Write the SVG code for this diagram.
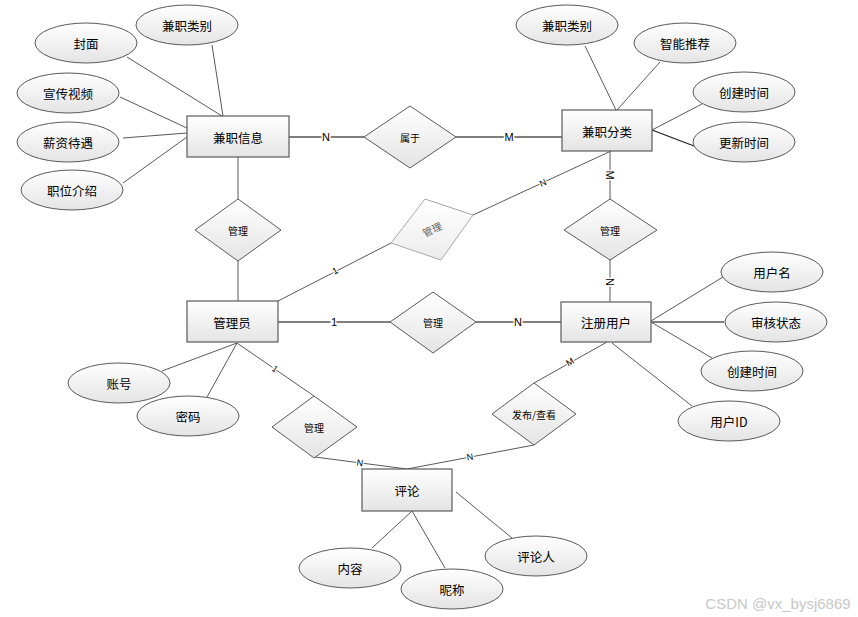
<svg xmlns="http://www.w3.org/2000/svg" width="858" height="617" viewBox="0 0 858 617">
<defs>
<linearGradient id="g" x1="0" y1="0" x2="0" y2="1">
<stop offset="0" stop-color="#ffffff"/>
<stop offset="1" stop-color="#e4e4e4"/>
</linearGradient>
<linearGradient id="gs" x1="0" y1="0" x2="0" y2="1">
<stop offset="0" stop-color="#ffffff"/>
<stop offset="1" stop-color="#ececec"/>
</linearGradient>
</defs>
<style>
.e{fill:url(#g);stroke:#5a5a5a;stroke-width:1.2}
.a{fill:url(#g);stroke:#5a5a5a;stroke-width:1}
.d{fill:url(#g);stroke:#5a5a5a;stroke-width:1}
.ds{fill:url(#gs);stroke:#a8a8a8;stroke-width:1}
.l{stroke:#595959;stroke-width:1;fill:none}
.lt{stroke:#7f7f7f;stroke-width:2;fill:none}
.t{font-family:"Noto Sans CJK SC","Liberation Sans",sans-serif;font-size:12.5px;fill:#000;text-anchor:middle;dominant-baseline:central}
.ts{font-family:"Noto Sans CJK SC","Liberation Sans",sans-serif;font-size:10px;fill:#000;text-anchor:middle;dominant-baseline:central}
.c{font-family:"Liberation Sans",sans-serif;font-size:11px;fill:#000;text-anchor:middle;dominant-baseline:central;stroke:#fff;stroke-width:3;paint-order:stroke}
.cs{font-family:"Liberation Sans",sans-serif;font-size:9px;fill:#000;text-anchor:middle;dominant-baseline:central;stroke:#fff;stroke-width:2.5;paint-order:stroke}
</style>
<rect width="858" height="617" fill="#fff"/>
<g id="connectors">
<line class="l" x1="127" y1="57" x2="222" y2="116"/>
<line class="l" x1="212" y1="45" x2="223" y2="116"/>
<line class="l" x1="120" y1="97" x2="187" y2="128"/>
<line class="l" x1="123" y1="138" x2="187" y2="133"/>
<line class="l" x1="123" y1="183" x2="187" y2="137"/>
<line class="l" x1="238" y1="157" x2="238" y2="199"/>
<line class="l" x1="238" y1="261" x2="238" y2="301"/>
<line class="lt" x1="289" y1="137" x2="364" y2="137"/>
<line class="lt" x1="456" y1="137" x2="562" y2="137"/>
<line class="l" x1="585" y1="46" x2="616" y2="110"/>
<line class="l" x1="660" y1="62" x2="617" y2="110"/>
<line class="l" x1="702" y1="104" x2="652" y2="130"/>
<line class="l" x1="652" y1="130" x2="694" y2="146" style="stroke:#222;stroke-width:1.3"/>
<line class="l" x1="610" y1="151" x2="610" y2="199"/>
<line class="l" x1="610" y1="260" x2="610" y2="302"/>
<line class="l" x1="611" y1="151" x2="473" y2="215"/>
<line class="l" x1="391" y1="243" x2="278" y2="301"/>
<line class="lt" x1="278" y1="322" x2="390" y2="322"/>
<line class="lt" x1="476" y1="322" x2="561" y2="322"/>
<line class="l" x1="162" y1="371" x2="237" y2="343"/>
<line class="l" x1="207" y1="397" x2="237" y2="343"/>
<line class="l" x1="237" y1="343" x2="314" y2="396"/>
<line class="l" x1="315" y1="457" x2="407" y2="469"/>
<line class="l" x1="534" y1="445" x2="407" y2="469"/>
<line class="l" x1="534" y1="383" x2="607" y2="342"/>
<line class="l" x1="651" y1="321" x2="723" y2="277"/>
<line class="lt" x1="651" y1="322" x2="724" y2="322"/>
<line class="l" x1="651" y1="322" x2="712" y2="358"/>
<line class="l" x1="612" y1="343" x2="692" y2="406"/>
<line class="l" x1="412" y1="511" x2="372" y2="548"/>
<line class="l" x1="412" y1="511" x2="445" y2="568"/>
<line class="l" x1="456" y1="492" x2="512" y2="538"/>
<text class="c" x="326" y="137">N</text>
<text class="c" x="509" y="137">M</text>
<text class="c" transform="translate(610,175) rotate(90)">M</text>
<text class="c" transform="translate(610,282) rotate(90)">N</text>
<text class="cs" transform="translate(543,183) rotate(-25)">N</text>
<text class="cs" transform="translate(335,271) rotate(-27)">1</text>
<text class="c" x="334" y="322">1</text>
<text class="c" x="518" y="322">N</text>
<text class="cs" transform="translate(275,369) rotate(34)">1</text>
<text class="cs" transform="translate(360,463) rotate(8)">N</text>
<text class="cs" transform="translate(470,457) rotate(-10)">N</text>
<text class="cs" transform="translate(570,362) rotate(-30)">M</text>
</g>
<g id="e-jzxx"><rect class="e" x="187" y="116" width="102" height="41"/><text class="t" x="238" y="137">兼职信息</text></g>
<g id="e-jzfl"><rect class="e" x="562" y="110" width="90" height="41"/><text class="t" x="607" y="131">兼职分类</text></g>
<g id="e-gly"><rect class="e" x="187" y="301" width="91" height="41"/><text class="t" x="232" y="322">管理员</text></g>
<g id="e-zcyh"><rect class="e" x="561" y="302" width="90" height="40"/><text class="t" x="606" y="322">注册用户</text></g>
<g id="e-pl"><rect class="e" x="362" y="469" width="90" height="42"/><text class="t" x="407" y="490">评论</text></g>
<g id="r-sy"><polygon class="d" points="410,106 456,137 410,168 364,137"/><text class="ts" x="410" y="137">属于</text></g>
<g id="r-gl1"><polygon class="d" points="238,199 281,230 238,261 195,230"/><text class="ts" x="238" y="230">管理</text></g>
<g id="r-gl2"><polygon class="ds" points="425,199 473,215 441,260 391,243"/><text class="ts" style="fill:#666" transform="translate(432,229) rotate(-25)">管理</text></g>
<g id="r-gl3"><polygon class="d" points="610,199 657,230 610,260 564,230"/><text class="ts" x="610" y="230">管理</text></g>
<g id="r-gl4"><polygon class="d" points="433,292 476,322 433,353 390,322"/><text class="ts" x="433" y="322">管理</text></g>
<g id="r-gl5"><polygon class="d" points="314,396 357,427 314,458 272,427"/><text class="ts" x="314" y="427">管理</text></g>
<g id="r-fb"><polygon class="d" points="534,383 576,414 534,445 492,414"/><text class="ts" x="534" y="414">发布/查看</text></g>
<g id="a-fm"><ellipse class="a" cx="86" cy="43" rx="51" ry="20"/><text class="t" x="86" y="43">封面</text></g>
<g id="a-jzlb1"><ellipse class="a" cx="187" cy="25" rx="51" ry="20"/><text class="t" x="187" y="25">兼职类别</text></g>
<g id="a-xcsp"><ellipse class="a" cx="68" cy="93" rx="51" ry="20"/><text class="t" x="68" y="93">宣传视频</text></g>
<g id="a-xzdy"><ellipse class="a" cx="68" cy="142" rx="51" ry="20"/><text class="t" x="68" y="142">薪资待遇</text></g>
<g id="a-zwjs"><ellipse class="a" cx="72" cy="190" rx="51" ry="20"/><text class="t" x="72" y="190">职位介绍</text></g>
<g id="a-jzlb2"><ellipse class="a" cx="567" cy="25" rx="51" ry="20"/><text class="t" x="567" y="25">兼职类别</text></g>
<g id="a-zntj"><ellipse class="a" cx="685" cy="43" rx="51" ry="20"/><text class="t" x="685" y="43">智能推荐</text></g>
<g id="a-cjsj1"><ellipse class="a" cx="744" cy="92" rx="51" ry="20"/><text class="t" x="744" y="92">创建时间</text></g>
<g id="a-gxsj"><ellipse class="a" cx="744" cy="142" rx="51" ry="20"/><text class="t" x="744" y="142">更新时间</text></g>
<g id="a-yhm"><ellipse class="a" cx="772" cy="272" rx="51" ry="20"/><text class="t" x="772" y="272">用户名</text></g>
<g id="a-shzt"><ellipse class="a" cx="776" cy="322" rx="51" ry="20"/><text class="t" x="776" y="322">审核状态</text></g>
<g id="a-cjsj2"><ellipse class="a" cx="752" cy="371" rx="51" ry="20"/><text class="t" x="752" y="371">创建时间</text></g>
<g id="a-yhid"><ellipse class="a" cx="729" cy="421" rx="51" ry="20"/><text class="t" x="729" y="421">用户ID</text></g>
<g id="a-zh"><ellipse class="a" cx="119" cy="383" rx="51" ry="20"/><text class="t" x="119" y="383">账号</text></g>
<g id="a-mm"><ellipse class="a" cx="188" cy="416" rx="51" ry="20"/><text class="t" x="188" y="416">密码</text></g>
<g id="a-nr"><ellipse class="a" cx="350" cy="568" rx="51" ry="20"/><text class="t" x="350" y="568">内容</text></g>
<g id="a-nc"><ellipse class="a" cx="452" cy="589" rx="51" ry="20"/><text class="t" x="452" y="589">昵称</text></g>
<g id="a-plr"><ellipse class="a" cx="536" cy="556" rx="51" ry="20"/><text class="t" x="536" y="556">评论人</text></g>
<text x="778" y="603" style="font-family:'Liberation Sans',sans-serif;font-size:15px;fill:#c8c8c8;text-anchor:middle;dominant-baseline:central">CSDN @vx_bysj6869</text>
</svg>
